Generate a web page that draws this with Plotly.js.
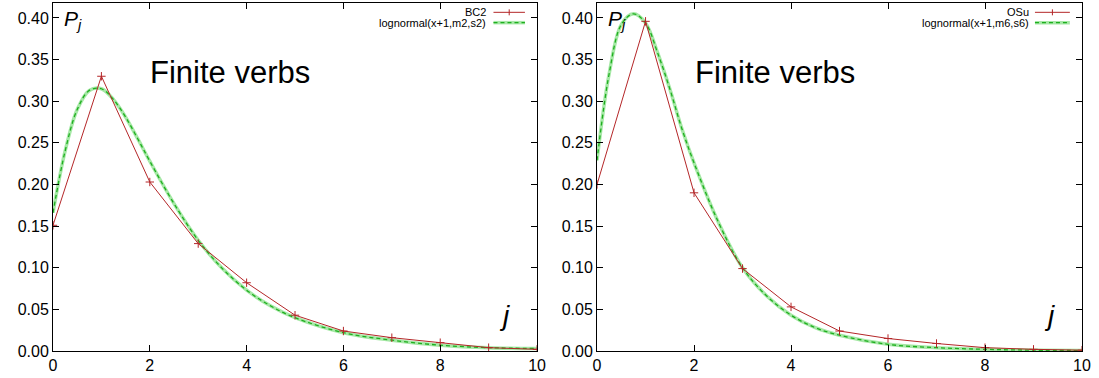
<!DOCTYPE html>
<html>
<head>
<meta charset="utf-8">
<script src="https://cdn.plot.ly/plotly-3.0.1.min.js"></script>
<style>
  html, body { margin: 0; padding: 0; background: #ffffff; }
  #chart { width: 1099px; height: 378px; }
</style>
</head>
<body>
<div id="chart"></div>
<script>
// ---- data ----
const jValues = [0, 1, 2, 3, 4, 5, 6, 7, 8, 9, 10];

const bc2Label = "BC2";
const bc2Values = [0.151, 0.330, 0.203, 0.129, 0.082, 0.043, 0.024, 0.016, 0.010, 0.004, 0.002];

const osuLabel = "OSu";
const osuValues = [0.200, 0.396, 0.190, 0.099, 0.053, 0.024, 0.015, 0.009, 0.004, 0.002, 0.001];

const fitX = [0, 0.25, 0.5, 0.75, 1, 1.25, 1.5, 1.75, 2, 2.5, 3, 3.5, 4, 4.5, 5, 6, 7, 8, 9, 10];
const fitLabelLeft = "lognormal(x+1,m2,s2)";
const fitLeftValues = [0.166, 0.240, 0.290, 0.313, 0.315, 0.302, 0.281, 0.255, 0.228, 0.177, 0.133, 0.099, 0.073, 0.054, 0.040, 0.022, 0.013, 0.007, 0.004, 0.003];
const fitLabelRight = "lognormal(x+1,m6,s6)";
const fitRightValues = [0.229, 0.333, 0.392, 0.405, 0.394, 0.358, 0.315, 0.267, 0.226, 0.155, 0.100, 0.066, 0.043, 0.028, 0.019, 0.008, 0.004, 0.002, 0.001, 0.0005];

const xTicks = [0, 2, 4, 6, 8, 10];
const yTicks = [0.00, 0.05, 0.10, 0.15, 0.20, 0.25, 0.30, 0.35, 0.40];

const panelTitle = "Finite verbs";

// ---- styles ----
const RED = "#b42628";
const GREEN_LIGHT = "#a6e8a6";
const GREEN_DARK = "#1fae1f";
const FONT = "Liberation Sans, Arial, Helvetica, sans-serif";

function dataTrace(y, xa, ya) {
  return {
    x: jValues, y: y, xaxis: xa, yaxis: ya, type: "scatter", mode: "lines+markers",
    line: { color: RED, width: 1 },
    marker: { symbol: "cross-thin", size: 6, color: RED, line: { color: RED, width: 1 } },
    showlegend: false, hoverinfo: "skip"
  };
}
function fitTraces(y, xa, ya) {
  return [
    { x: fitX, y: y, xaxis: xa, yaxis: ya, type: "scatter", mode: "lines",
      line: { color: GREEN_LIGHT, width: 3.5, shape: "spline", smoothing: 1 },
      showlegend: false, hoverinfo: "skip" },
    { x: fitX, y: y, xaxis: xa, yaxis: ya, type: "scatter", mode: "lines",
      line: { color: GREEN_DARK, width: 1.3, dash: "4px,3px", shape: "spline", smoothing: 1 },
      showlegend: false, hoverinfo: "skip" }
  ];
}

const traces = [
  ...fitTraces(fitLeftValues, "x", "y"),
  dataTrace(bc2Values, "x", "y"),
  ...fitTraces(fitRightValues, "x2", "y2"),
  dataTrace(osuValues, "x2", "y2")
];

function xAxis(domain, anchor) {
  return {
    domain: domain, anchor: anchor, range: [0, 10],
    tickmode: "array", tickvals: xTicks, ticktext: xTicks.map(String),
    ticks: "inside", ticklen: 6, tickwidth: 1, tickcolor: "#000",
    showline: true, linecolor: "#000", linewidth: 1, mirror: "ticks",
    showgrid: false, zeroline: false,
    tickfont: { family: FONT, size: 16, color: "#000" }
  };
}
function yAxis(anchor) {
  return {
    anchor: anchor, range: [0, 0.418],
    tickmode: "array", tickvals: yTicks, ticktext: yTicks.map(v => v.toFixed(2)),
    ticks: "inside", ticklen: 6, tickwidth: 1, tickcolor: "#000",
    showline: true, linecolor: "#000", linewidth: 1, mirror: "ticks",
    showgrid: false, zeroline: false,
    tickfont: { family: FONT, size: 16, color: "#000" }
  };
}

function panelDecor(xr, yr, dataLabel, fitLabel, legTextX, legX0, legX1) {
  const ann = [
    { xref: xr, yref: yr, x: 1.97, y: 0.335, xanchor: "left", yanchor: "middle",
      text: panelTitle, showarrow: false, font: { family: FONT, size: 31, color: "#000" } },
    { xref: xr, yref: yr, x: 0.18, y: 0.398, xanchor: "left", yanchor: "middle",
      text: "<i>P</i><sub><i>j</i></sub>", showarrow: false, font: { family: FONT, size: 21, color: "#000" } },
    { xref: xr, yref: yr, x: 9.33, y: 0.043, xanchor: "center", yanchor: "middle",
      text: "<i>j</i>", showarrow: false, font: { family: FONT, size: 28, color: "#000" } },
    { xref: xr, yref: yr, x: legTextX, y: 0.4068, xanchor: "right", yanchor: "middle",
      text: dataLabel, showarrow: false, font: { family: FONT, size: 11, color: "#000" } },
    { xref: xr, yref: yr, x: legTextX, y: 0.3944, xanchor: "right", yanchor: "middle",
      text: fitLabel, showarrow: false, font: { family: FONT, size: 11, color: "#000" } }
  ];
  const mid = (legX0 + legX1) / 2;
  const shp = [
    { type: "line", xref: xr, yref: yr, x0: legX0, x1: legX1, y0: 0.4068, y1: 0.4068,
      line: { color: RED, width: 1 } },
    { type: "line", xref: xr, yref: yr, x0: mid, x1: mid, y0: 0.4032, y1: 0.4104,
      line: { color: RED, width: 1 } },
    { type: "line", xref: xr, yref: yr, x0: legX0, x1: legX1, y0: 0.3944, y1: 0.3944,
      line: { color: GREEN_LIGHT, width: 3.5 } },
    { type: "line", xref: xr, yref: yr, x0: legX0, x1: legX1, y0: 0.3944, y1: 0.3944,
      line: { color: GREEN_DARK, width: 1.3, dash: "4px,3px" } }
  ];
  return { ann, shp };
}

const left = panelDecor("x", "y", bc2Label, fitLabelLeft, 8.99, 9.10, 9.75);
const right = panelDecor("x2", "y2", osuLabel, fitLabelRight, 8.95, 9.03, 9.75);

const layout = {
  width: 1099, height: 378,
  margin: { l: 53, r: 17, t: 3, b: 27, pad: 0 },
  paper_bgcolor: "#ffffff", plot_bgcolor: "#ffffff",
  showlegend: false,
  font: { family: FONT, color: "#000" },
  xaxis: xAxis([0, 0.4704], "y"),
  yaxis: yAxis("x"),
  xaxis2: xAxis([0.5287, 1], "y2"),
  yaxis2: yAxis("x2"),
  annotations: [...left.ann, ...right.ann],
  shapes: [...left.shp, ...right.shp]
};

Plotly.newPlot("chart", traces, layout, { staticPlot: true, displayModeBar: false });
</script>
</body>
</html>
